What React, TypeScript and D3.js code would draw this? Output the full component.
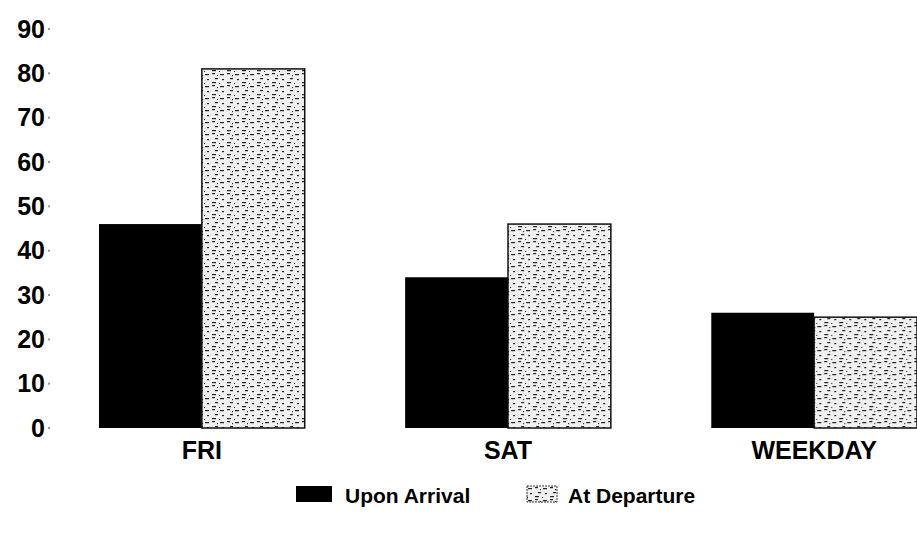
import React, { useEffect, useRef } from 'react';
import * as d3 from 'd3';

const categories = ['FRI', 'SAT', 'WEEKDAY'];
const seriesNames = ['Upon Arrival', 'At Departure'];
const uponArrival = [46, 34, 26];
const atDeparture = [81, 46, 25];
const yTicks = [0, 10, 20, 30, 40, 50, 60, 70, 80, 90];

const App: React.FC = () => {
  const svgRef = useRef<SVGSVGElement>(null);

  useEffect(() => {
    if (!svgRef.current) return;
    const width = 917;
    const height = 535;
    const font = "'Liberation Sans', Arial, Helvetica, sans-serif";

    const root = d3.select(svgRef.current);
    root.selectAll('*').remove();
    root.attr('width', width).attr('height', height);

    // speckled fill for the departure bars
    const defs = root.append('defs');
    const pat = defs
      .append('pattern')
      .attr('id', 'speckle')
      .attr('patternUnits', 'userSpaceOnUse')
      .attr('width', 15)
      .attr('height', 12);
    pat.append('rect').attr('width', 15).attr('height', 12).attr('fill', '#f0f0f0');
    const dashes = [
      [1, 2, 4], [8, 1, 3], [11, 6, 3], [3, 7, 2], [8, 10, 4], [0, 11, 1], [13, 3, 1],
    ];
    dashes.forEach(([x, y, w]) => {
      pat.append('rect').attr('x', x).attr('y', y).attr('width', w).attr('height', 1.2).attr('fill', '#222');
    });

    const data = categories.map((c, i) => ({
      category: c,
      values: [uponArrival[i], atDeparture[i]],
    }));

    const x0 = d3.scaleBand<string>().domain(categories).range([99, 917]).paddingInner(0.328).paddingOuter(0);
    const x1 = d3.scaleBand<string>().domain(seriesNames).range([0, x0.bandwidth()]);
    const y = d3.scaleLinear().domain([0, 90]).range([428, 29]);

    // y axis labels
    const axis = root.append('g');
    axis
      .selectAll('text')
      .data(yTicks)
      .enter()
      .append('text')
      .attr('x', 45)
      .attr('y', (d) => y(d))
      .attr('dy', '0.35em')
      .attr('text-anchor', 'end')
      .style('font-family', font)
      .style('font-weight', 'bold')
      .style('font-size', '25px')
      .text((d) => d);
    axis
      .selectAll('rect')
      .data(yTicks)
      .enter()
      .append('rect')
      .attr('x', 48)
      .attr('y', (d) => y(d) - 1)
      .attr('width', 2)
      .attr('height', 2)
      .attr('fill', '#999');

    // bars
    const groups = root
      .selectAll('g.group')
      .data(data)
      .enter()
      .append('g')
      .attr('class', 'group')
      .attr('transform', (d) => `translate(${x0(d.category)},0)`);

    groups
      .selectAll('rect')
      .data((d) => d.values.map((v, i) => ({ key: seriesNames[i], value: v })))
      .enter()
      .append('rect')
      .attr('x', (d) => x1(d.key)!)
      .attr('y', (d) => y(d.value))
      .attr('width', x1.bandwidth())
      .attr('height', (d) => y(0) - y(d.value))
      .attr('fill', (d) => (d.key === seriesNames[0] ? '#000' : 'url(#speckle)'))
      .attr('stroke', (d) => (d.key === seriesNames[0] ? 'none' : '#111'))
      .attr('stroke-width', 1.5);

    // category labels
    root
      .selectAll('text.cat')
      .data(categories)
      .enter()
      .append('text')
      .attr('class', 'cat')
      .attr('x', (d) => x0(d)! + x0.bandwidth() / 2)
      .attr('y', 459)
      .attr('text-anchor', 'middle')
      .style('font-family', font)
      .style('font-weight', 'bold')
      .style('font-size', '25px')
      .text((d) => d);

    // legend
    const legendX = [296, 527];
    const legend = root
      .selectAll('g.legend')
      .data(seriesNames)
      .enter()
      .append('g')
      .attr('class', 'legend')
      .attr('transform', (d, i) => `translate(${legendX[i]},486)`);
    legend
      .append('rect')
      .attr('width', (d, i) => (i === 0 ? 36 : 30))
      .attr('height', 16)
      .attr('fill', (d, i) => (i === 0 ? '#000' : 'url(#speckle)'))
      .attr('stroke', (d, i) => (i === 0 ? 'none' : '#333'))
      .attr('stroke-dasharray', '2,1');
    legend
      .append('text')
      .attr('x', (d, i) => (i === 0 ? 49 : 41))
      .attr('y', 17)
      .style('font-family', font)
      .style('font-weight', 'bold')
      .style('font-size', '21px')
      .text((d) => d);
  }, []);

  return <svg ref={svgRef} style={{ position: 'absolute', left: 0, top: 0, display: 'block' }}></svg>;
};

export default App;
